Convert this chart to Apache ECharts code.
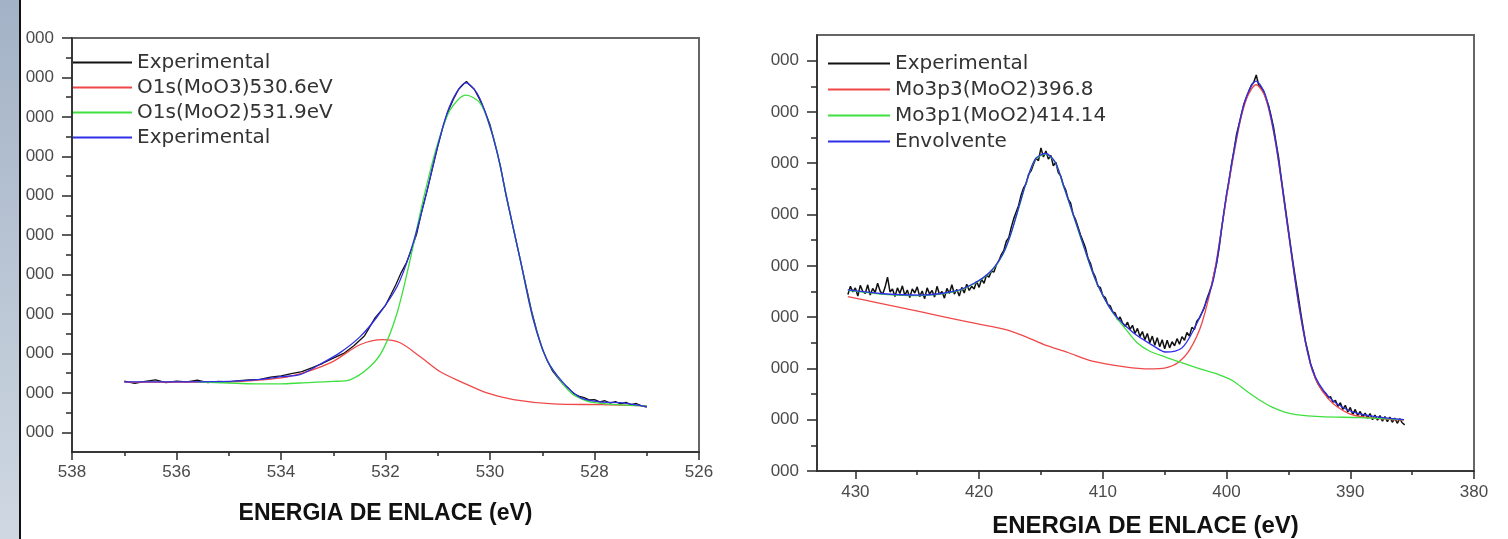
<!DOCTYPE html>
<html><head><meta charset="utf-8">
<script src="https://cdn.jsdelivr.net/npm/echarts@6/dist/echarts.min.js"></script>
<style>html,body{margin:0;padding:0;background:#fff}#c{width:1508px;height:539px}</style>
</head><body><div id="c"></div>
<script>
// ---------- tick values / labels ----------
const leftXTicks  = [526, 528, 530, 532, 534, 536, 538];
const leftXMinor  = [527, 529, 531, 533, 535, 537];
const rightXTicks = [380, 390, 400, 410, 420, 430];
const rightXMinor = [385, 395, 405, 415, 425];
const leftYTicks  = [0.5, 1.5, 2.5, 3.5, 4.5, 5.5, 6.5, 7.5, 8.5, 9.5, 10.5];
const leftYMinor  = [1, 2, 3, 4, 5, 6, 7, 8, 9, 10];
const rightYTicks = [0, 1, 2, 3, 4, 5, 6, 7, 8];
const rightYMinor = [0.5, 1.5, 2.5, 3.5, 4.5, 5.5, 6.5, 7.5];
const yTickLabel  = '000';
const xTitle      = 'ENERGIA DE ENLACE (eV)';

// ---------- legend names ----------
const leftNames  = ['Experimental', 'O1s(MoO3)530.6eV', 'O1s(MoO2)531.9eV', 'Experimental '];
const rightNames = ['Experimental', 'Mo3p3(MoO2)396.8', 'Mo3p1(MoO2)414.14', 'Envolvente'];

// ---------- left chart (O1s) data: [binding energy eV, intensity] ----------
const leftExperimental = [
 [537.0,1.80],[536.8,1.74],[536.6,1.79],[536.4,1.83],[536.2,1.76],[536.0,1.80],[535.8,1.78],[535.6,1.82],
 [535.4,1.76],[535.2,1.79],[535.0,1.78],[534.8,1.81],[534.6,1.83],[534.4,1.84],[534.2,1.90],[534.0,1.93],
 [533.8,1.99],[533.6,2.04],[533.4,2.14],[533.2,2.25],[533.0,2.38],[532.8,2.50],[532.6,2.70],[532.4,2.95],
 [532.2,3.40],[532.0,3.72],[531.9,3.98],[531.8,4.25],[531.7,4.55],[531.6,4.80],[531.5,5.15],[531.4,5.55],
 [531.3,6.15],[531.2,6.65],[531.1,7.20],[531.0,7.75],[530.9,8.25],[530.8,8.65],[530.7,8.95],[530.6,9.20],
 [530.5,9.34],[530.45,9.40],[530.4,9.32],[530.3,9.20],[530.2,8.95],[530.1,8.65],[530.0,8.30],[529.9,7.80],
 [529.8,7.25],[529.7,6.55],[529.6,5.95],[529.5,5.35],[529.4,4.75],[529.3,4.15],[529.2,3.55],[529.1,3.05],
 [529.0,2.62],[528.9,2.30],[528.8,2.05],[528.7,1.88],[528.6,1.72],[528.5,1.62],[528.4,1.48],[528.3,1.42],
 [528.2,1.38],[528.1,1.32],[528.0,1.33],[527.9,1.27],[527.8,1.30],[527.7,1.24],[527.6,1.28],[527.5,1.22],
 [527.4,1.26],[527.3,1.20],[527.2,1.23],[527.1,1.17],[527.0,1.14]
];
const leftMoO3 = [
 [537.0,1.77],[536.0,1.77],[535.0,1.78],[534.0,1.88],[533.5,2.04],[533.0,2.30],[532.49,2.72],[532.05,2.85],
 [531.72,2.77],[531.34,2.42],[530.96,2.04],[530.52,1.76],[530.06,1.50],[529.55,1.33],[528.79,1.22],
 [527.89,1.20],[527.0,1.17]
];
const leftMoO2 = [
 [535.6,1.78],[535.0,1.75],[534.5,1.73],[534.0,1.73],[533.64,1.75],[533.0,1.79],[532.68,1.83],[532.3,2.16],
 [532.05,2.59],[531.78,3.52],[531.53,4.87],[531.28,6.39],[531.02,7.74],[530.76,8.68],[530.46,9.05],
 [530.19,8.85],[530.0,8.25],[529.86,7.58],[529.67,6.39],[529.42,4.87],[529.17,3.35],[528.91,2.34],
 [528.6,1.72],[528.4,1.45],[528.0,1.25],[527.0,1.17]
];
const leftEnvelope = [
 [537.0,1.78],[536.0,1.78],[535.0,1.79],[534.4,1.84],[534.0,1.91],[533.64,1.96],[533.26,2.22],[532.87,2.52],
 [532.49,2.92],[532.16,3.43],[531.78,4.19],[531.53,5.05],[531.28,6.22],[531.02,7.66],[530.82,8.60],
 [530.63,9.14],[530.46,9.36],[530.25,9.10],[530.06,8.50],[529.86,7.58],[529.67,6.39],[529.42,4.87],
 [529.17,3.35],[528.91,2.34],[528.6,1.76],[528.27,1.38],[527.89,1.27],[527.51,1.25],[527.0,1.15]
];

// ---------- right chart (Mo3p) data ----------
const rightExperimental = [
 [430.6,3.44],[430.4,3.60],[430.2,3.49],[430.0,3.57],[429.8,3.41],[429.6,3.62],[429.4,3.50],[429.2,3.46],
 [429.0,3.63],[428.8,3.43],[428.6,3.56],[428.4,3.48],[428.2,3.66],[428.0,3.51],[427.8,3.44],[427.6,3.58],
 [427.4,3.78],[427.2,3.49],[427.0,3.55],[426.8,3.40],[426.6,3.57],[426.4,3.46],[426.2,3.61],[426.0,3.42],
 [425.8,3.53],[425.6,3.38],[425.4,3.55],[425.2,3.47],[425.0,3.59],[424.8,3.40],[424.6,3.51],[424.4,3.36],
 [424.2,3.57],[424.0,3.45],[423.8,3.52],[423.6,3.39],[423.4,3.60],[423.2,3.44],[423.0,3.50],[422.8,3.37],
 [422.6,3.56],[422.4,3.46],[422.2,3.63],[422.0,3.45],[421.8,3.54],[421.6,3.41],[421.4,3.58],[421.2,3.47],
 [421.0,3.64],[420.8,3.52],[420.6,3.60],[420.4,3.55],[420.2,3.70],[420.0,3.58],[419.8,3.74],[419.6,3.66],
 [419.4,3.82],[419.2,3.78],[419.0,3.90],[418.8,3.88],[418.6,4.02],[418.4,4.10],[418.2,4.22],[418.0,4.30],
 [417.8,4.48],[417.6,4.55],[417.4,4.75],[417.2,4.92],[417.0,5.05],[416.8,5.18],[416.6,5.38],[416.4,5.52],
 [416.2,5.60],[416.0,5.78],[415.8,5.85],[415.6,5.98],[415.4,6.10],[415.2,6.05],[415.0,6.30],[414.8,6.12],
 [414.6,6.24],[414.4,6.08],[414.2,6.15],[414.0,5.95],[413.8,6.02],[413.6,5.82],[413.4,5.75],[413.2,5.58],
 [413.0,5.48],[412.8,5.30],[412.6,5.22],[412.4,5.00],[412.2,4.90],[412.0,4.75],[411.8,4.60],[411.6,4.48],
 [411.4,4.35],[411.2,4.15],[411.0,4.05],[410.8,3.88],[410.6,3.78],[410.4,3.60],[410.2,3.58],[410.0,3.42],
 [409.8,3.38],[409.6,3.25],[409.4,3.22],[409.2,3.10],[409.0,3.08],[408.8,2.95],[408.6,3.00],[408.4,2.88],
 [408.2,2.82],[408.0,2.90],[407.8,2.76],[407.6,2.84],[407.4,2.68],[407.2,2.78],[407.0,2.62],[406.8,2.72],
 [406.6,2.56],[406.4,2.68],[406.2,2.50],[406.0,2.63],[405.8,2.45],[405.6,2.60],[405.4,2.42],[405.2,2.56],
 [405.0,2.38],[404.8,2.55],[404.6,2.40],[404.4,2.52],[404.2,2.44],[404.0,2.58],[403.8,2.47],[403.6,2.62],
 [403.4,2.55],[403.2,2.70],[403.0,2.63],[402.8,2.80],[402.6,2.76],[402.4,2.92],[402.2,2.98],[402.0,3.08],
 [401.8,3.18],[401.6,3.35],[401.4,3.48],[401.2,3.62],[401.0,3.85],[400.8,4.05],[400.6,4.35],[400.4,4.72],
 [400.2,5.05],[400.0,5.38],[399.8,5.65],[399.6,5.98],[399.4,6.25],[399.2,6.55],[399.0,6.75],[398.8,6.95],
 [398.6,7.15],[398.4,7.28],[398.2,7.40],[398.0,7.52],[397.8,7.58],[397.6,7.72],[397.4,7.52],[397.2,7.48],
 [397.0,7.40],[396.8,7.25],[396.6,7.12],[396.4,6.92],[396.2,6.70],[396.0,6.40],[395.8,6.12],[395.6,5.75],
 [395.4,5.40],[395.2,5.05],[395.0,4.70],[394.8,4.35],[394.6,4.02],[394.4,3.70],[394.2,3.40],[394.0,3.08],
 [393.8,2.78],[393.6,2.50],[393.4,2.30],[393.2,2.08],[393.0,1.95],[392.8,1.80],[392.6,1.70],[392.4,1.62],
 [392.2,1.55],[392.0,1.52],[391.8,1.42],[391.6,1.45],[391.4,1.34],[391.2,1.38],[391.0,1.26],[390.8,1.33],
 [390.6,1.20],[390.4,1.28],[390.2,1.15],[390.0,1.24],[389.8,1.10],[389.6,1.20],[389.4,1.08],[389.2,1.16],
 [389.0,1.05],[388.8,1.13],[388.6,1.03],[388.4,1.12],[388.2,1.00],[388.0,1.09],[387.8,0.99],[387.6,1.08],
 [387.4,0.97],[387.2,1.06],[387.0,0.96],[386.8,1.05],[386.6,0.95],[386.4,1.03],[386.2,0.93],[386.0,1.02],
 [385.8,0.94],[385.6,0.90]
];
const rightMo3p3 = [
 [430.61,3.40],[427.98,3.27],[424.68,3.10],[421.39,2.93],[418.1,2.77],[416.45,2.64],[414.8,2.47],[412.83,2.31],
 [410.85,2.14],[408.22,2.03],[406.24,1.99],[404.93,2.01],[403.94,2.11],[402.96,2.37],[401.97,2.90],
 [400.97,3.90],[399.99,5.36],[399.0,6.70],[398.34,7.28],[397.62,7.53],[396.86,7.28],[396.03,6.38],
 [395.05,4.73],[394.06,3.08],[393.07,1.96],[391.75,1.40],[390.11,1.12],[388.46,1.04],[385.66,0.99]
];
const rightMo3p1 = [
 [430.61,3.52],[427.98,3.45],[424.68,3.42],[422.05,3.49],[420.4,3.65],[419.08,3.88],[418.1,4.21],[417.44,4.61],
 [416.78,5.14],[416.12,5.67],[415.46,6.07],[414.64,6.18],[413.82,6.00],[413.16,5.54],[412.5,5.07],
 [411.51,4.35],[410.52,3.68],[409.21,3.09],[408.2,2.78],[407.23,2.50],[406.24,2.34],[404.93,2.22],
 [403.61,2.11],[402.0,1.98],[400.64,1.88],[399.5,1.76],[398.34,1.55],[397.3,1.38],[396.36,1.25],
 [395.3,1.15],[394.39,1.10],[392.41,1.06],[389.12,1.04],[385.66,1.00]
];
const rightEnvelope = [
 [430.61,3.53],[427.98,3.46],[424.68,3.43],[422.05,3.50],[420.4,3.66],[419.08,3.89],[418.1,4.22],[417.44,4.62],
 [416.78,5.15],[416.12,5.68],[415.46,6.08],[414.64,6.19],[413.82,6.01],[413.16,5.55],[412.5,5.08],
 [411.51,4.36],[410.52,3.69],[409.21,3.10],[407.56,2.70],[405.91,2.44],[404.93,2.32],[403.61,2.40],
 [402.62,2.77],[401.63,3.30],[400.97,3.83],[399.99,5.41],[399.0,6.74],[398.34,7.33],[397.62,7.60],
 [396.86,7.33],[396.03,6.41],[395.05,4.75],[394.06,3.10],[393.07,1.98],[391.75,1.45],[390.11,1.18],
 [388.46,1.08],[385.66,1.00]
];

// ---------- styling ----------
const C_BLACK = '#111111', C_RED = '#f04848', C_GREEN = '#3ee03e', C_BLUE = '#2f2fe8';
const AXIS_COLOR = '#2a2a2a', LABEL_COLOR = '#4a4a4a';

function xMain(gi, min, max, ticks, labelMargin, nameGap, nameSize) {
  return {
    type: 'value', gridIndex: gi, min, max, inverse: true, position: 'bottom',
    name: xTitle, nameLocation: 'middle', nameGap,
    nameTextStyle: { fontFamily: 'Liberation Sans', fontWeight: 'bold', fontSize: nameSize, color: '#111' },
    axisLine: { show: true, onZero: false, lineStyle: { color: AXIS_COLOR, width: 1.5 } },
    axisTick: { show: true, length: 8, customValues: ticks, lineStyle: { color: AXIS_COLOR, width: 1.5 } },
    axisLabel: { show: true, customValues: ticks, margin: labelMargin, fontFamily: 'Liberation Sans', fontSize: 17, color: LABEL_COLOR,
      showMinLabel: true, showMaxLabel: true },
    splitLine: { show: false }
  };
}
function xMinor(gi, min, max, ticks) {
  return {
    type: 'value', gridIndex: gi, min, max, inverse: true, position: 'bottom',
    axisLine: { show: false, onZero: false },
    axisTick: { show: true, length: 4, customValues: ticks, lineStyle: { color: AXIS_COLOR, width: 1.5 } },
    axisLabel: { show: false }, splitLine: { show: false }
  };
}
function yMain(gi, min, max, ticks) {
  return {
    type: 'value', gridIndex: gi, min, max, position: 'left',
    axisLine: { show: true, onZero: false, lineStyle: { color: AXIS_COLOR, width: 1.5 } },
    axisTick: { show: true, length: 10, customValues: ticks, lineStyle: { color: AXIS_COLOR, width: 1.5 } },
    axisLabel: { show: true, customValues: ticks, margin: 18, fontFamily: 'Liberation Sans', fontSize: 17, color: LABEL_COLOR,
      formatter: () => yTickLabel },
    splitLine: { show: false }
  };
}
function yMinor(gi, min, max, ticks) {
  return {
    type: 'value', gridIndex: gi, min, max, position: 'left',
    axisLine: { show: false, onZero: false },
    axisTick: { show: true, length: 6, customValues: ticks, lineStyle: { color: AXIS_COLOR, width: 1.5 } },
    axisLabel: { show: false }, splitLine: { show: false }
  };
}
function line(name, data, color, xi, yi, z, smooth, width) {
  return { type: 'line', name, data, xAxisIndex: xi, yAxisIndex: yi, showSymbol: false, symbol: 'none',
    smooth: smooth, z, color, lineStyle: { color, width: width }, animation: false, silent: true };
}
function legend(left, top, gap, iw, names) {
  return { left, top, orient: 'vertical', itemWidth: iw, itemHeight: 2, itemGap: gap, icon: 'rect',
    padding: 0, data: names, selectedMode: false,
    textStyle: { fontFamily: 'DejaVu Sans', fontSize: 20, color: '#333', lineHeight: 21 } };
}

const chart = echarts.init(document.getElementById('c'), null, { renderer: 'canvas' });
chart.setOption({
  backgroundColor: '#ffffff',
  animation: false,
  grid: [
    { left: 72, top: 38, width: 627, height: 414, show: true, borderColor: '#666', borderWidth: 2, backgroundColor: '#fff',
      containLabel: false, outerBoundsMode: 'none' },
    { left: 817, top: 35, width: 657, height: 436, show: true, borderColor: '#666', borderWidth: 2, backgroundColor: '#fff',
      containLabel: false, outerBoundsMode: 'none' }
  ],
  xAxis: [
    xMain(0, 526, 538, leftXTicks, 12, 50, 23),
    xMinor(0, 526, 538, leftXMinor),
    xMain(1, 380, 433.1, rightXTicks, 13, 43, 24),
    xMinor(1, 380, 433.1, rightXMinor)
  ],
  yAxis: [
    yMain(0, 0, 10.5, leftYTicks),
    yMinor(0, 0, 10.5, leftYMinor),
    yMain(1, 0, 8.5, rightYTicks),
    yMinor(1, 0, 8.5, rightYMinor)
  ],
  legend: [
    legend(73, 52, 4, 59, leftNames),
    legend(828, 53, 5, 62, rightNames)
  ],
  graphic: [
    { type: 'rect', left: 0, top: 0, shape: { width: 19, height: 539 },
      style: { fill: { type: 'linear', x: 0, y: 0, x2: 0, y2: 1,
        colorStops: [{ offset: 0, color: '#a3b2c6' }, { offset: 1, color: '#cfd8e2' }] } }, z: 100 },
    { type: 'rect', left: 19, top: 0, shape: { width: 2, height: 539 }, style: { fill: '#111' }, z: 100 }
  ],
  series: [
    line(leftNames[0], leftExperimental, C_BLACK, 0, 0, 2, false, 1.3),
    line(leftNames[1], leftMoO3, C_RED, 0, 0, 3, 0.3, 1.3),
    line(leftNames[2], leftMoO2, C_GREEN, 0, 0, 4, 0.3, 1.3),
    line(leftNames[3], leftEnvelope, C_BLUE, 0, 0, 5, 0.3, 1.3),
    line(rightNames[0], rightExperimental, C_BLACK, 2, 2, 2, false, 1.5),
    line(rightNames[1], rightMo3p3, C_RED, 2, 2, 3, 0.3, 1.3),
    line(rightNames[2], rightMo3p1, C_GREEN, 2, 2, 4, 0.3, 1.3),
    line(rightNames[3], rightEnvelope, C_BLUE, 2, 2, 5, 0.3, 1.3)
  ]
});
</script></body></html>
